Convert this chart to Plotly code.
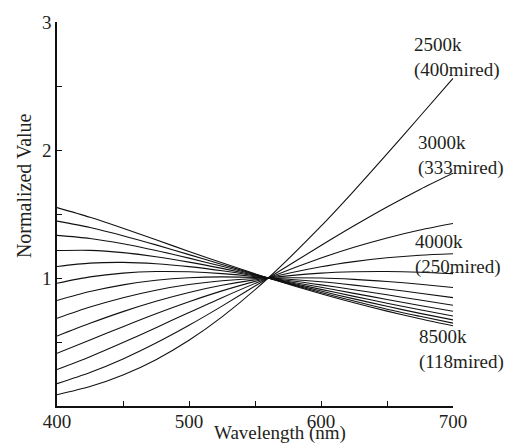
import plotly.graph_objects as go

# Wavelength sample points (nm)
wavelengths = [400, 425, 450, 475, 500, 525, 560, 600, 625, 650, 675, 700]

# Colour temperatures (K) of the curves
temperatures = [2500, 3000, 3500, 4000, 4500, 5000, 5500, 6000, 6500, 7000, 7500, 8000, 8500]

# Normalized values (1 at 560 nm), one list per temperature
v2500 = [0.0882, 0.1518, 0.2420, 0.3621, 0.5134, 0.6960, 1.0, 1.4052, 1.6816, 1.9696, 2.2637, 2.5598]
v3000 = [0.1749, 0.2615, 0.3678, 0.4919, 0.6305, 0.7802, 1.0, 1.2538, 1.4076, 1.5544, 1.6919, 1.8185]
v3500 = [0.2852, 0.3855, 0.4958, 0.6120, 0.7301, 0.8463, 1.0, 1.1558, 1.2400, 1.3131, 1.3749, 1.4256]
v4000 = [0.4113, 0.5156, 0.6200, 0.7208, 0.8146, 0.8994, 1.0, 1.0878, 1.1280, 1.1578, 1.1778, 1.1891]
v4500 = [0.5464, 0.6459, 0.7373, 0.8181, 0.8868, 0.9427, 1.0, 1.0379, 1.0485, 1.0507, 1.0453, 1.0339]
v5000 = [0.6851, 0.7728, 0.8463, 0.9047, 0.9487, 0.9786, 1.0, 1.0000, 0.9896, 0.9729, 0.9511, 0.9256]
v5500 = [0.8235, 0.8941, 0.9466, 0.9820, 1.0020, 1.0088, 1.0, 0.9704, 0.9443, 0.9142, 0.8812, 0.8464]
v6000 = [0.9590, 1.0087, 1.0384, 1.0506, 1.0483, 1.0343, 1.0, 0.9466, 0.9086, 0.8686, 0.8276, 0.7865]
v6500 = [1.0896, 1.1160, 1.1220, 1.1117, 1.0887, 1.0562, 1.0, 0.9273, 0.8799, 0.8324, 0.7855, 0.7399]
v7000 = [1.2144, 1.2159, 1.1982, 1.1662, 1.1240, 1.0750, 1.0, 0.9112, 0.8563, 0.8029, 0.7516, 0.7026]
v7500 = [1.3328, 1.3087, 1.2676, 1.2151, 1.1552, 1.0914, 1.0, 0.8977, 0.8367, 0.7787, 0.7238, 0.6724]
v8000 = [1.4445, 1.3946, 1.3308, 1.2589, 1.1828, 1.1058, 1.0, 0.8862, 0.8201, 0.7564, 0.7007, 0.6474]
v8500 = [1.5497, 1.4740, 1.3884, 1.2983, 1.2074, 1.1184, 1.0, 0.8764, 0.8060, 0.7411, 0.6812, 0.6264]

series = [v2500, v3000, v3500, v4000, v4500, v5000, v5500,
          v6000, v6500, v7000, v7500, v8000, v8500]

# Curve labels
label_text = ["2500k<br>(400mired)", "3000k<br>(333mired)",
              "4000k<br>(250mired)", "8500k<br>(118mired)"]
label_x = [669, 672, 670, 673]
label_y = [2.72, 1.96, 1.185, 0.445]

x_tickvals = [400, 500, 600, 700]
y_tickvals = [1, 2, 3]

FONT = "Liberation Serif, Times New Roman, serif"
TXT = "#231f20"

fig = go.Figure()
for t, vals in zip(temperatures, series):
    fig.add_trace(go.Scatter(
        x=wavelengths, y=vals, mode="lines", name=f"{t}K",
        line=dict(color="#111111", width=1.1, shape="spline", smoothing=0.8),
        showlegend=False, hoverinfo="skip"))

for txt, lx, ly in zip(label_text, label_x, label_y):
    fig.add_annotation(x=lx, y=ly, xref="x", yref="y", text=txt,
                       showarrow=False, xanchor="left", yanchor="middle",
                       align="left", font=dict(family=FONT, size=19, color=TXT))

fig.add_annotation(x=569, y=0, xref="x", yref="paper", yshift=-27,
                   text="Wavelength (nm)", showarrow=False,
                   xanchor="center", yanchor="middle",
                   font=dict(family=FONT, size=19, color=TXT))
fig.add_annotation(x=-0.083, y=0.573, xref="paper", yref="paper",
                   text="Normalized Value", showarrow=False, textangle=-90,
                   xanchor="center", yanchor="middle",
                   font=dict(family=FONT, size=20, color=TXT))

fig.update_layout(
    width=512, height=444,
    margin=dict(l=57, r=59, t=12, b=37),
    paper_bgcolor="white", plot_bgcolor="white",
    font=dict(family=FONT, size=19, color=TXT),
)
fig.update_xaxes(range=[400, 700], tickvals=x_tickvals, showgrid=False,
                 zeroline=False, showline=True, linecolor="#111111",
                 linewidth=1.5, ticks="inside", ticklen=5, tickwidth=1,
                 tickcolor="#111111", ticklabelstandoff=-3,
                 minor=dict(dtick=50, tick0=400, ticks="inside", ticklen=5,
                            tickwidth=1, tickcolor="#111111", showgrid=False))
fig.update_yaxes(range=[0, 3], tickvals=y_tickvals, showgrid=False,
                 zeroline=False, showline=True, linecolor="#111111",
                 linewidth=1.5, ticks="inside", ticklen=5, tickwidth=1,
                 tickcolor="#111111",
                 minor=dict(dtick=0.5, tick0=0, ticks="inside", ticklen=5,
                            tickwidth=1, tickcolor="#111111", showgrid=False))

fig.write_html("out.html")
